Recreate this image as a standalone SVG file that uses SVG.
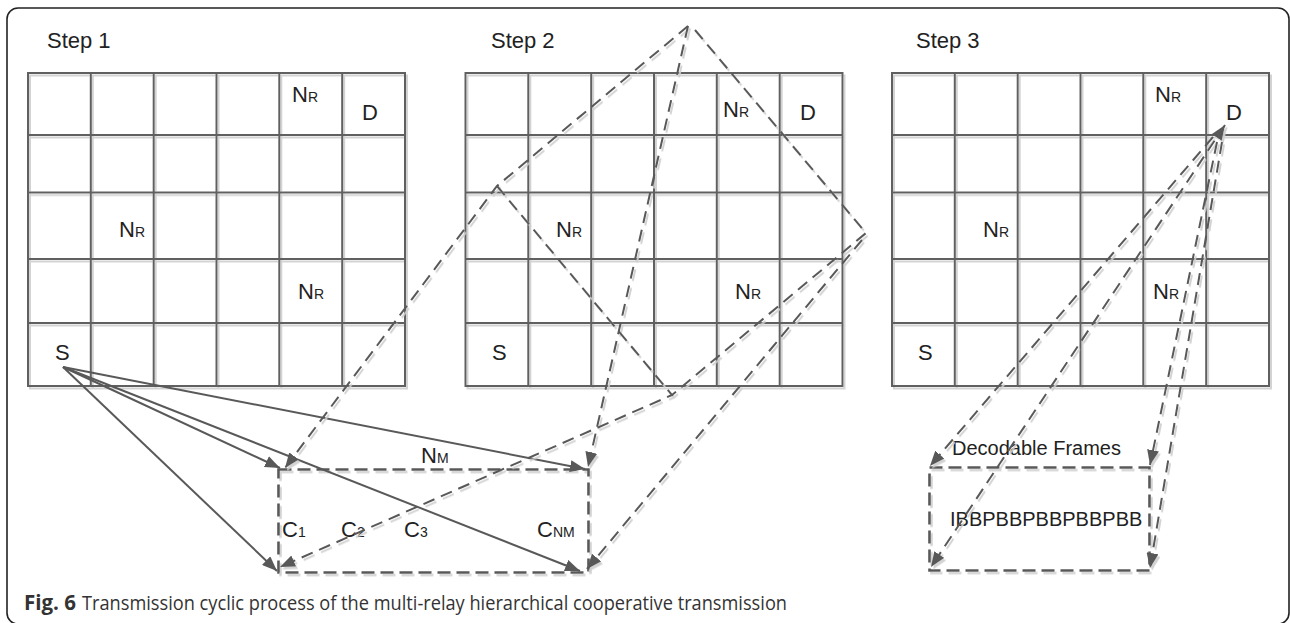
<svg xmlns="http://www.w3.org/2000/svg" xmlns:xlink="http://www.w3.org/1999/xlink" width="1290" height="623" viewBox="0 0 1290 623">
  <style>
    .frame { fill: #ffffff; stroke: #222222; stroke-width: 1.6; }
    .grid line { stroke: #606060; stroke-width: 2; }
    .lbl { font-family: "Liberation Sans", Arial, sans-serif; font-size: 22px; fill: #222222; }
    .sub { font-size: 14px; }
    .small { font-family: "Liberation Sans", Arial, sans-serif; font-size: 20px; fill: #222222; }
    .solid { fill: none; stroke: #595959; stroke-width: 2; }
    .dash { fill: none; stroke: #595959; stroke-width: 2; stroke-dasharray: 12 7; }
    .box { fill: none; stroke: #595959; stroke-width: 2.6; stroke-dasharray: 13 6; }
    .cap { font-family: "Open Sans", "Noto Sans", sans-serif; font-size: 20.5px; fill: #333333; }
  </style>
  <defs>
    <filter id="shade" x="-5%" y="-5%" width="115%" height="115%">
      <feDropShadow dx="2" dy="2.5" stdDeviation="0.4" flood-color="#cfcfcf" flood-opacity="0.9"/>
    </filter>
    <marker id="arrow" markerUnits="userSpaceOnUse" markerWidth="15" markerHeight="12" viewBox="0 0 15 12" refX="15" refY="6" orient="auto-start-reverse">
      <path d="M0,0 L15,6 L0,12 z" fill="#595959"/>
    </marker>
    <!-- 6 x 5 cell grid, origin at the top-left corner -->
    <g id="grid" class="grid">
      <line x1="0" y1="73" x2="377" y2="73"/>
      <line x1="0" y1="135" x2="377" y2="135"/>
      <line x1="0" y1="192.5" x2="377" y2="192.5"/>
      <line x1="0" y1="259" x2="377" y2="259"/>
      <line x1="0" y1="323" x2="377" y2="323"/>
      <line x1="0" y1="386" x2="377" y2="386"/>
      <line x1="0" y1="72" x2="0" y2="387"/>
      <line x1="62.8" y1="73" x2="62.8" y2="386"/>
      <line x1="125.7" y1="73" x2="125.7" y2="386"/>
      <line x1="188.5" y1="73" x2="188.5" y2="386"/>
      <line x1="251.3" y1="73" x2="251.3" y2="386"/>
      <line x1="314.2" y1="73" x2="314.2" y2="386"/>
      <line x1="377" y1="72" x2="377" y2="387"/>
    </g>
  </defs>

  <!-- outer frame -->
  <rect class="frame" x="7" y="8" width="1282" height="616" rx="11" ry="11"/>

  <!-- step 1 -->
  <g id="step1">
    <text class="lbl" x="47" y="48">Step 1</text>
    <use xlink:href="#grid" transform="translate(28,0)" filter="url(#shade)"/>
    <text class="lbl" x="292" y="102">N<tspan class="sub">R</tspan></text>
    <text class="lbl" x="362" y="120">D</text>
    <text class="lbl" x="119" y="237">N<tspan class="sub">R</tspan></text>
    <text class="lbl" x="298" y="299">N<tspan class="sub">R</tspan></text>
    <text class="lbl" x="55" y="360">S</text>
  </g>

  <!-- step 2 -->
  <g id="step2">
    <text class="lbl" x="491" y="48">Step 2</text>
    <use xlink:href="#grid" transform="translate(465.5,0)" filter="url(#shade)"/>
    <text class="lbl" x="723" y="117">N<tspan class="sub">R</tspan></text>
    <text class="lbl" x="800" y="120">D</text>
    <text class="lbl" x="556" y="237">N<tspan class="sub">R</tspan></text>
    <text class="lbl" x="735" y="299">N<tspan class="sub">R</tspan></text>
    <text class="lbl" x="492" y="360">S</text>
  </g>

  <!-- step 3 -->
  <g id="step3">
    <text class="lbl" x="916" y="48">Step 3</text>
    <use xlink:href="#grid" transform="translate(892,0)" filter="url(#shade)"/>
    <text class="lbl" x="1155" y="102">N<tspan class="sub">R</tspan></text>
    <text class="lbl" x="1226" y="120">D</text>
    <text class="lbl" x="983" y="237">N<tspan class="sub">R</tspan></text>
    <text class="lbl" x="1153" y="299">N<tspan class="sub">R</tspan></text>
    <text class="lbl" x="918" y="360">S</text>
  </g>

  <!-- coded packet buffer -->
  <g id="buffer">
    <rect class="box" x="278.5" y="469.5" width="310" height="103" filter="url(#shade)"/>
    <text class="lbl" x="421" y="463">N<tspan class="sub">M</tspan></text>
    <text class="lbl" x="282" y="537">C<tspan class="sub">1</tspan></text>
    <text class="lbl" x="341" y="537">C<tspan class="sub">2</tspan></text>
    <text class="lbl" x="404" y="537">C<tspan class="sub">3</tspan></text>
    <text class="lbl" x="537" y="537">C<tspan class="sub" font-size="12">NM</tspan></text>
  </g>

  <!-- decodable frame buffer -->
  <g id="frames">
    <rect class="box" x="929.5" y="467.5" width="220" height="103" filter="url(#shade)"/>
    <text class="small" x="952" y="455">Decodable Frames</text>
    <text class="small" x="950" y="526">IBBPBBPBBPBBPBB</text>
  </g>

  <!-- connectors -->
  <g id="connectors">
    <!-- step 1: source to buffer corners -->
    <g id="source-links">
      <line class="solid" x1="63" y1="367" x2="280" y2="468" marker-end="url(#arrow)"/>
      <line class="solid" x1="63" y1="367" x2="277" y2="571" marker-end="url(#arrow)"/>
      <line class="solid" x1="63" y1="367" x2="585" y2="469" marker-end="url(#arrow)"/>
      <line class="solid" x1="63" y1="367" x2="580" y2="571" marker-end="url(#arrow)"/>
    </g>
    <!-- step 2: relay paths -->
    <g id="relay-links" filter="url(#shade)">
      <polyline class="dash" points="688,26 497,186 285,468" marker-end="url(#arrow)"/>
      <polyline class="dash" points="497,186 672,395 280,567" marker-end="url(#arrow)"/>
      <polyline class="dash" points="695,30 866,233 672,395"/>
      <line class="dash" x1="862" y1="240" x2="587" y2="569" marker-end="url(#arrow)"/>
      <line class="dash" x1="688" y1="26" x2="588" y2="467" marker-end="url(#arrow)"/>
    </g>
    <!-- step 3: destination to frame buffer -->
    <g id="dest-links" filter="url(#shade)">
      <line class="dash" x1="1213" y1="137" x2="930" y2="466" marker-end="url(#arrow)"/>
      <line class="dash" x1="1225" y1="125" x2="931" y2="567" marker-start="url(#arrow)" marker-end="url(#arrow)"/>
      <line class="dash" x1="1217" y1="142" x2="1150" y2="465" marker-end="url(#arrow)"/>
      <line class="dash" x1="1222" y1="142" x2="1150" y2="568" marker-end="url(#arrow)"/>
    </g>
  </g>

  <!-- caption -->
  <text class="cap" x="24" y="610" font-weight="bold" textLength="52" lengthAdjust="spacingAndGlyphs">Fig. 6</text>
  <text class="cap" x="82" y="610" textLength="705" lengthAdjust="spacingAndGlyphs">Transmission cyclic process of the multi-relay hierarchical cooperative transmission</text>
</svg>
